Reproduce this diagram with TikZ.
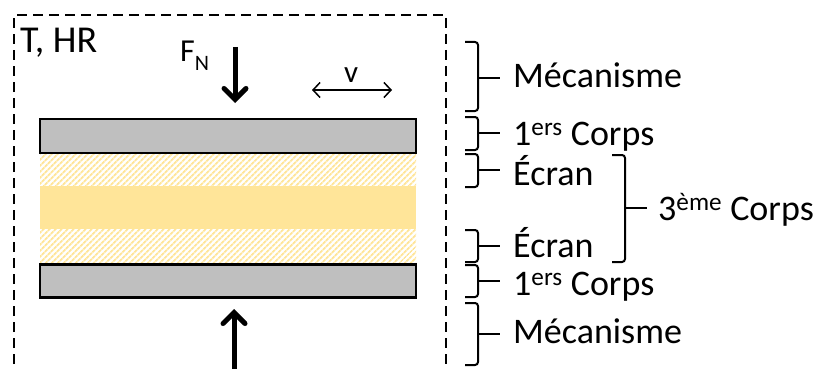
\documentclass[tikz,border=0pt]{standalone}
\usepackage{fontspec}
\setmainfont{Carlito}
\usetikzlibrary{arrows.meta,patterns.meta}
\definecolor{barfill}{RGB}{191,191,191}
\definecolor{gold}{RGB}{255,229,153}
\tikzset{
  bigtxt/.style={anchor=base west,inner sep=0pt,font=\fontsize{36}{40}\selectfont},
  bar/.style={draw=black,line width=2.5pt,fill=barfill},
  hatch/.style={pattern={Lines[angle=45,distance=4pt,line width=2pt]},pattern color=gold},
  brace/.style={line width=2pt,rounded corners=3pt},
  force/.style={line width=5pt,-{Straight Barb[length=11pt,width=22pt,line cap=round]}},
  speed/.style={line width=1.5pt,{Straight Barb[length=7pt,width=15pt]}-{Straight Barb[length=7pt,width=15pt]}},
  frame/.style={line width=2.2pt,dash pattern=on 10pt off 6pt}
}
\begin{document}
\begin{tikzpicture}[x=1pt,y=-1pt]
\useasboundingbox (0,0) rectangle (822,369);
% dashed frame
\draw[frame] (14,380) -- (14,15) -- (446,15) -- (446,380);
% layers
\fill[hatch] (40,153) rectangle (416,186);
\fill[gold] (40,186) rectangle (416,229);
\fill[hatch] (40,229) rectangle (416,264);
\node[bar,minimum width=376pt,minimum height=34pt,inner sep=0pt] (top) at (228,136) {};
\node[bar,minimum width=376pt,minimum height=33pt,inner sep=0pt] (bot) at (228,281) {};
% texts in frame
\node[bigtxt,font=\fontsize{38}{42}\selectfont] (thr) at (20,53) {T, HR};
\node[bigtxt,font=\fontsize{32}{36}\selectfont] (fn) at (180,62) {F\raisebox{-0.28em}{\fontsize{22}{24}\selectfont N}};
\node[bigtxt,font=\fontsize{31}{36}\selectfont] (v) at (344,82) {v};
% arrows
\coordinate (fa) at (235,47);
\coordinate (fb) at (235,103);
\draw[force] (fa) -- (fb);
\coordinate (ua) at (234,375);
\coordinate (ub) at (234,309);
\draw[force] (ua) -- (ub);
\coordinate (va) at (312,90);
\coordinate (vb) at (392,90);
\draw[speed] (va) -- (vb);
% braces
\draw[brace] (465,42) -- (478,42) -- (478,111) -- (465,111); \draw[line width=2pt] (478,78) -- (500,78);
\draw[brace] (465,117) -- (478,117) -- (478,150) -- (465,150); \draw[line width=2pt] (478,133) -- (500,133);
\draw[brace] (465,154) -- (478,154) -- (478,187) -- (465,187); \draw[line width=2pt] (478,170) -- (500,170);
\draw[brace] (465,230) -- (478,230) -- (478,262) -- (465,262); \draw[line width=2pt] (478,246) -- (500,246);
\draw[brace] (465,265) -- (478,265) -- (478,297) -- (465,297); \draw[line width=2pt] (478,281) -- (500,281);
\draw[brace] (465,303) -- (478,303) -- (478,365) -- (465,365); \draw[line width=2pt] (478,334) -- (500,334);
\draw[brace] (612,155) -- (625,155) -- (625,262) -- (612,262); \draw[line width=2pt] (625,208) -- (647,208);
% labels
\node[bigtxt] (m1) at (513,88) {Mécanisme};
\node[bigtxt] (c1) at (513,145) {1\textsuperscript{ers} Corps};
\node[bigtxt] (e1) at (513,185) {Écran};
\node[bigtxt] (c3) at (658,220) {3\textsuperscript{ème} Corps};
\node[bigtxt] (e2) at (513,257) {Écran};
\node[bigtxt] (c2) at (513,295) {1\textsuperscript{ers} Corps};
\node[bigtxt] (m2) at (513,343) {Mécanisme};
\end{tikzpicture}
\end{document}
